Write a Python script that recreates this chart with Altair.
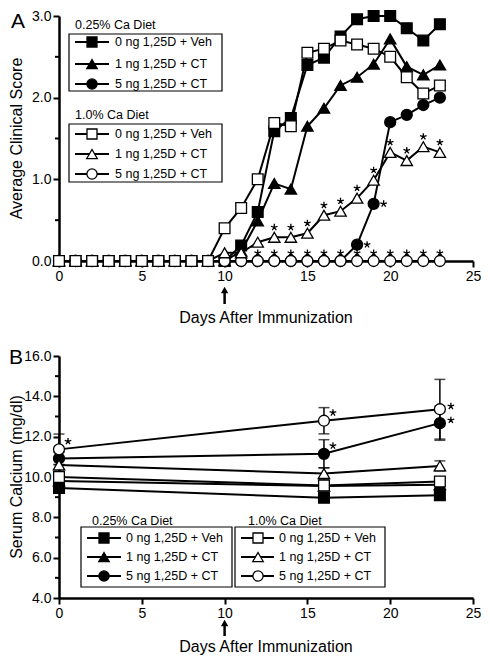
import altair as alt
import pandas as pd

FONT = "Liberation Sans"

group_names = ["0.25% Ca Diet", "1.0% Ca Diet"]
treatments = ["0 ng 1,25D + Veh", "1 ng 1,25D + CT", "5 ng 1,25D + CT"]
x_ticks = [0, 5, 10, 15, 20, 25]
x_title = "Days After Immunization"

# ---------------- Panel A: clinical score ----------------
days_a = list(range(24))
a_f_veh = [0] * 11 + [0.19, 0.60, 1.59, 1.75, 2.40, 2.49, 2.75, 2.96, 3.00, 3.00, 2.85, 2.70, 2.90]
a_f_1ng = [0] * 11 + [0.12, 0.49, 0.95, 0.88, 1.65, 1.87, 2.15, 2.25, 2.41, 2.72, 2.38, 2.28, 2.40]
a_f_5ng = [0] * 18 + [0.20, 0.70, 1.70, 1.79, 1.91, 2.00]
a_o_veh = [0] * 10 + [0.40, 0.65, 1.00, 1.69, 1.65, 2.55, 2.60, 2.70, 2.65, 2.60, 2.50, 2.25, 2.05, 2.15]
a_o_1ng = [0] * 10 + [0.10, 0.10, 0.23, 0.29, 0.29, 0.34, 0.56, 0.61, 0.77, 0.99, 1.33, 1.23, 1.40, 1.33]
a_o_5ng = [0] * 24
a_values = [[a_f_veh, a_f_1ng, a_f_5ng], [a_o_veh, a_o_1ng, a_o_5ng]]
a_y_major = [0, 1, 2, 3]
a_y_minor = [0.5, 1.5, 2.5]
# significance stars: (group, treatment) -> days
a_stars_tri = {(1, 1): list(range(13, 24))}
a_stars_circ = {(1, 2): list(range(12, 24))}
a_stars_right = {(0, 2): [18, 19]}

# ---------------- Panel B: serum calcium ----------------
days_b = [0, 16, 23]
b_f_veh = [9.45, 8.97, 9.10]
b_f_1ng = [9.80, 9.55, 9.62]
b_f_5ng = [10.92, 11.15, 12.67]
b_o_veh = [10.00, 9.58, 9.78]
b_o_1ng = [10.60, 10.17, 10.55]
b_o_5ng = [11.37, 12.79, 13.36]
b_values = [[b_f_veh, b_f_1ng, b_f_5ng], [b_o_veh, b_o_1ng, b_o_5ng]]
b_f_veh_err = [0.15, 0.15, 0.15]
b_f_1ng_err = [0.20, 0.20, 0.20]
b_f_5ng_err = [0.30, 0.70, 0.85]
b_o_veh_err = [0.20, 0.20, 0.20]
b_o_1ng_err = [0.30, 0.29, 0.25]
b_o_5ng_err = [0.76, 0.65, 1.48]
b_errors = [[b_f_veh_err, b_f_1ng_err, b_f_5ng_err], [b_o_veh_err, b_o_1ng_err, b_o_5ng_err]]
b_y_major = [4, 6, 8, 10, 12, 14, 16]
b_y_minor = [5, 7, 9, 11, 13, 15]
b_stars_upright = {(1, 2): [0, 16], (0, 2): [16]}
b_stars_right = {(1, 2): [23], (0, 2): [23]}

SHAPES = ["square", "triangle-up", "circle"]
SIZES = [115, 130, 120]
LEG_SIZES = [100, 110, 105]
STAR = ("M0,0L0,-1M0,0L0.951,-0.309M0,0L0.588,0.809M0,0L-0.588,0.809M0,0L-0.951,-0.309")


def long_df(days, values, errors=None):
    rows = []
    for g in range(2):
        for t in range(3):
            for i, d in enumerate(days):
                v = values[g][t][i]
                e = errors[g][t][i] if errors else 0
                rows.append(dict(day=d, value=v, lo=v - e, hi=v + e,
                                 key=f"{g}-{t}", shape=SHAPES[t], size=SIZES[t],
                                 fillc="black" if g == 0 else "white",
                                 order=g * 10 + (t if g == 0 else 2 - t)))
    return pd.DataFrame(rows).sort_values(["order", "day"]).reset_index(drop=True)


def star_df(days, values, star_map):
    rows = []
    for (g, t), ds in star_map.items():
        for d in ds:
            rows.append(dict(day=d, value=values[g][t][days.index(d)]))
    return pd.DataFrame(rows)


PX = lambda f: alt.X(f, scale=None, axis=None)
PY = lambda f: alt.Y(f, scale=None, axis=None)


def legend_layers(boxes):
    rect_rows, title_rows, entry_rows = [], [], []
    for b in boxes:
        rect_rows.append(dict(x0=b["x0"], x1=b["x1"], y0=b["y0"], y1=b["y1"]))
        title_rows.append(dict(tx=b["title_x"], ty=b["title_y"], title=group_names[b["g"]]))
        for t in range(3):
            entry_rows.append(dict(lx0=b["lx0"], lx1=b["lx1"], mx=b["mx"], tx=b["tx"],
                                   ly=b["ys"][t], label=treatments[t], shape=SHAPES[t],
                                   size=LEG_SIZES[t],
                                   fillc="black" if b["g"] == 0 else "white"))
    rect_df = pd.DataFrame(rect_rows)
    title_df = pd.DataFrame(title_rows)
    entry_df = pd.DataFrame(entry_rows)
    rects = alt.Chart(rect_df).mark_rect(fill="white", stroke="black", strokeWidth=1.2).encode(
        x=PX("x0:Q"), x2="x1:Q", y=PY("y0:Q"), y2="y1:Q")
    titles = alt.Chart(title_df).mark_text(align="left", baseline="middle", font=FONT,
                                           fontSize=12.5, color="black").encode(
        x=PX("tx:Q"), y=PY("ty:Q"), text="title:N")
    lines = alt.Chart(entry_df).mark_rule(color="black", strokeWidth=2).encode(
        x=PX("lx0:Q"), x2="lx1:Q", y=PY("ly:Q"))
    pts = alt.Chart(entry_df).mark_point(filled=True, stroke="black", strokeWidth=1.3, opacity=1).encode(
        x=PX("mx:Q"), y=PY("ly:Q"),
        shape=alt.Shape("shape:N", scale=None, legend=None),
        fill=alt.Fill("fillc:N", scale=None, legend=None),
        size=alt.Size("size:Q", scale=None, legend=None))
    labels = alt.Chart(entry_df).mark_text(align="left", baseline="middle", font=FONT,
                                           fontSize=12.5, color="black").encode(
        x=PX("tx:Q"), y=PY("ly:Q"), text="label:N")
    return [rects, titles, lines, pts, labels]


def panel(days, values, errors, y_domain, y_major, y_minor, y_title, letter, width, height,
          stars_specs, legend_boxes, letter_xy, ytitle_x, xtitle_dy, arrow_span):
    df = long_df(days, values, errors)
    x_enc = alt.X("day:Q", scale=alt.Scale(domain=[0, 25], nice=False, zero=False),
                  axis=alt.Axis(values=x_ticks, format="d", title=None, labelFlush=False,
                                labelOverlap=False))
    y_enc = alt.Y("value:Q", scale=alt.Scale(domain=y_domain, nice=False, zero=False),
                  axis=alt.Axis(values=y_major, format=".1f", title=None, labelOverlap=False))
    base = alt.Chart(df)
    layers = []
    minor = alt.Chart(pd.DataFrame({"value": y_minor})).mark_rule(color="black", strokeWidth=2).encode(
        y=alt.Y("value:Q"), x=alt.value(-4), x2=alt.value(0))
    layers.append(minor)
    layers.append(base.mark_line(color="black", strokeWidth=2).encode(
        x=x_enc, y=y_enc, detail="key:N", order="day:Q"))
    if errors is not None:
        layers.append(base.mark_rule(color="black", strokeWidth=1.5).encode(
            x="day:Q", y="lo:Q", y2="hi:Q"))
        layers.append(base.mark_tick(color="black", orient="horizontal", size=11, thickness=1.5).encode(
            x="day:Q", y="lo:Q"))
        layers.append(base.mark_tick(color="black", orient="horizontal", size=11, thickness=1.5).encode(
            x="day:Q", y="hi:Q"))
    layers.append(base.mark_point(filled=True, stroke="black", strokeWidth=1.3, opacity=1).encode(
        x="day:Q", y="value:Q",
        shape=alt.Shape("shape:N", scale=None, legend=None),
        fill=alt.Fill("fillc:N", scale=None, legend=None),
        size=alt.Size("size:Q", scale=None, legend=None)))
    for sdf, dx, dy in stars_specs:
        if len(sdf):
            layers.append(alt.Chart(sdf).mark_point(shape=STAR, size=48, filled=False, stroke="black",
                                                    strokeWidth=1.3, opacity=1,
                                                    xOffset=dx, yOffset=dy).encode(
                x="day:Q", y="value:Q"))
    arrow_df = pd.DataFrame({"day": [10]})
    layers.append(alt.Chart(arrow_df).mark_rule(color="black", strokeWidth=2.5).encode(
        x="day:Q", y=alt.value(height + arrow_span[0]), y2=alt.value(height + arrow_span[1])))
    layers.append(alt.Chart(arrow_df).mark_point(shape="triangle-up", filled=True, color="black",
                                                 opacity=1, size=55).encode(
        x="day:Q", y=alt.value(height + arrow_span[0])))
    # panel letter
    layers.append(alt.Chart(pd.DataFrame({"t": [letter]})).mark_text(
        font=FONT, fontSize=21, color="black", baseline="middle", align="center").encode(
        x=alt.value(letter_xy[0]), y=alt.value(letter_xy[1]), text="t:N"))
    # axis titles
    layers.append(alt.Chart(pd.DataFrame({"t": [x_title]})).mark_text(
        font=FONT, fontSize=16, color="black", baseline="middle", align="center").encode(
        x=alt.value(width / 2), y=alt.value(height + xtitle_dy), text="t:N"))
    layers.append(alt.Chart(pd.DataFrame({"t": [y_title]})).mark_text(
        font=FONT, fontSize=16, color="black", baseline="middle", align="center", angle=270).encode(
        x=alt.value(ytitle_x), y=alt.value(height / 2), text="t:N"))
    layers.extend(legend_layers(legend_boxes))
    return alt.layer(*layers).properties(width=width, height=height)


boxes_a = [
    dict(g=0, x0=10, x1=163, y0=18, y1=75, title_x=16, title_y=9, lx0=16, lx1=50, mx=33, tx=56,
         ys=[26, 48, 68]),
    dict(g=1, x0=10, x1=163, y0=108, y1=166, title_x=16, title_y=99, lx0=16, lx1=50, mx=33, tx=56,
         ys=[118, 138, 158]),
]
boxes_b = [
    dict(g=0, x0=22, x1=173, y0=171, y1=231, title_x=33, title_y=165, lx0=28, lx1=62, mx=45, tx=67,
         ys=[182, 201, 220]),
    dict(g=1, x0=176, x1=326, y0=171, y1=231, title_x=189, title_y=165, lx0=182, lx1=215, mx=199, tx=220,
         ys=[182, 201, 220]),
]

stars_a = [(star_df(days_a, a_values, a_stars_tri), 0, -10),
           (star_df(days_a, a_values, a_stars_circ), 0, -8),
           (star_df(days_a, a_values, a_stars_right), 10, 0)]
stars_b = [(star_df(days_b, b_values, b_stars_upright), 9, -8),
           (star_df(days_b, b_values, b_stars_right), 11, -3)]

panel_a = panel(days_a, a_values, None, [0, 3], a_y_major, a_y_minor, "Average Clinical Score", "A",
                414, 245, stars_a, boxes_a, (-41, 6), -42, 57, (29, 43))
panel_b = panel(days_b, b_values, b_errors, [4, 16], b_y_major, b_y_minor, "Serum Calcium (mg/dl)", "B",
                414, 242, stars_b, boxes_b, (-43, 2), -42, 49, (25, 38))

chart = alt.concat(panel_a, panel_b, columns=1, spacing=21).properties(
    padding={"left": 0, "top": 0, "right": 0, "bottom": 0}
).configure_view(stroke=None).configure_axis(
    domainColor="black", domainWidth=2.5, tickColor="black", tickWidth=2, tickSize=6,
    labelFont=FONT, labelFontSize=14, labelColor="black", labelPadding=2,
    grid=False, zindex=1)

chart.save("out.html", embed_options={"renderer": "svg", "actions": False})
